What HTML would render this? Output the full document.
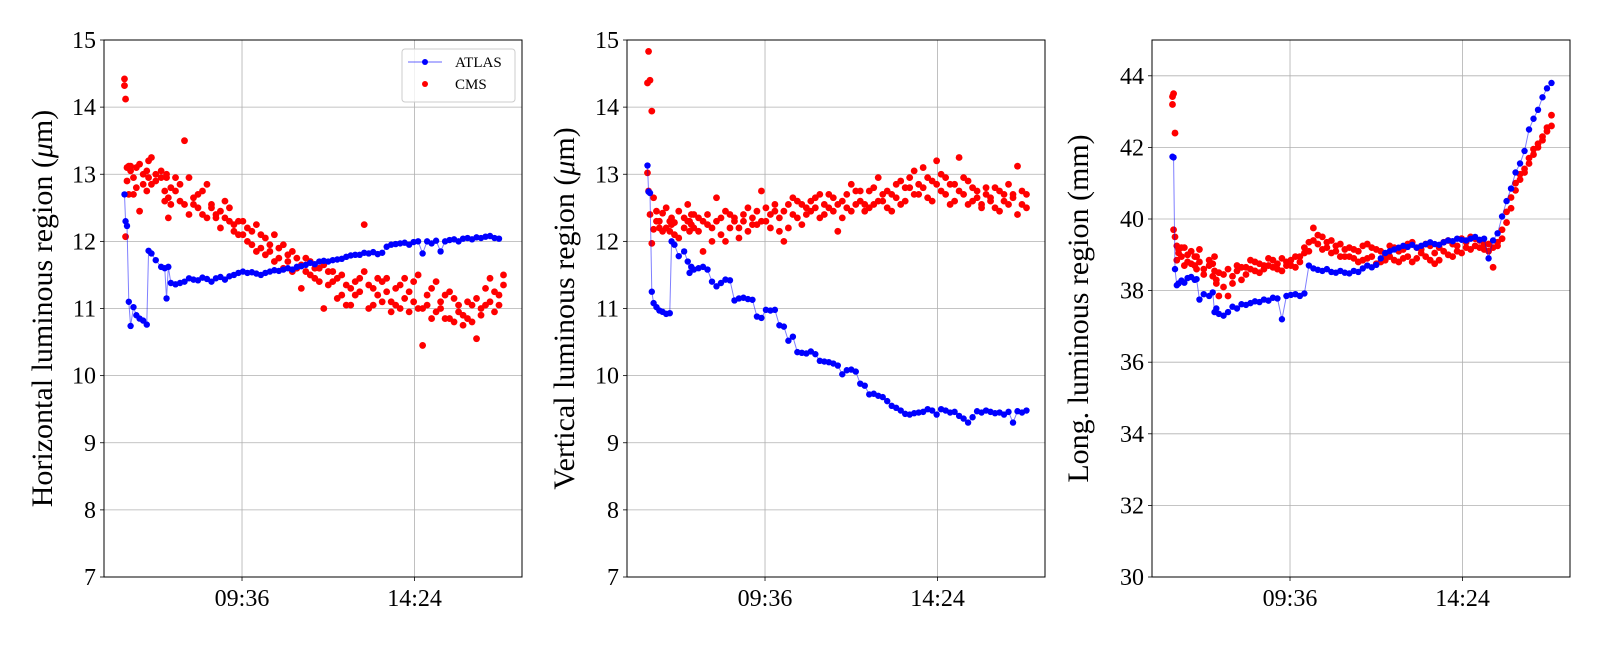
<!DOCTYPE html>
<html><head><meta charset="utf-8"><style>
html,body{margin:0;padding:0;background:#fff;}
svg text{font-family:"Liberation Serif",serif;fill:#000;}
</style></head><body>
<svg id="chart" width="1600" height="640" viewBox="0 0 1600 640" xmlns="http://www.w3.org/2000/svg"></svg>
<script>
const times=[6.33,6.36,6.40,6.45,6.50,6.58,6.66,6.75,6.85,6.95,7.00,7.08,7.20,7.35,7.45,7.50,7.55,7.62,
7.75,7.875,8.0,8.125,8.25,8.375,8.5,8.625,8.75,8.875,9.0,9.125,9.25,9.375,9.5,
9.625,9.75,9.875,10.0,10.125,10.25,10.375,10.5,10.625,10.75,10.875,11.0,11.125,
11.25,11.375,11.5,11.625,11.75,11.875,12.0,12.125,
12.25,12.375,12.5,12.625,12.75,12.875,13.0,13.125,13.25,13.375,13.5,
13.625,13.75,
13.875,14.0,14.125,14.25,14.375,14.5,14.625,14.75,14.875,15.0,15.125,15.25,15.375,15.5,15.625,15.75,15.875,16.0,16.125,16.25,16.375,16.5,16.625,16.75,16.875];
const xTickHours=[9.6,14.4];
const xTickLabels=["09:36","14:24"];

const atlasH=[12.70,12.30,12.23,11.10,10.74,11.02,10.90,10.85,10.82,10.76,11.86,11.82,11.72,11.62,11.60,11.15,11.62,11.38,
11.36,11.38,11.40,11.45,11.43,11.42,11.46,11.44,11.40,11.45,11.47,11.43,11.48,11.50,11.53,
11.55,11.53,11.54,11.52,11.50,11.53,11.55,11.57,11.56,11.58,11.60,11.58,11.62,
11.63,11.65,11.68,11.66,11.70,11.71,11.70,11.72,
11.73,11.74,11.77,11.79,11.80,11.80,11.83,11.82,11.84,11.81,11.83,
11.92,11.95,
11.96,11.97,11.98,11.95,11.99,12.00,11.82,12.00,11.97,12.01,11.85,12.00,12.02,12.03,12.00,12.04,12.05,12.03,12.06,12.05,12.07,12.08,12.05,12.04];
const cmsH1=[14.42,14.12,13.10,13.12,13.05,12.70,13.10,13.15,12.85,13.05,12.95,13.25,12.90,13.05,12.75,12.95,12.35,12.80,
12.75,12.60,13.50,12.95,12.55,12.70,12.40,12.85,12.50,12.35,12.45,12.60,12.30,12.25,12.10,
12.30,12.00,12.15,12.25,11.90,12.05,11.85,12.10,11.75,11.95,11.70,11.85,11.60,
11.65,11.55,11.70,11.45,11.60,11.00,11.55,11.40,
11.45,11.20,11.35,11.05,11.40,11.25,11.55,11.00,11.30,11.45,11.10,
11.25,10.95,
11.05,11.35,11.15,10.95,11.40,11.00,10.45,11.20,11.30,10.95,11.10,10.85,11.25,10.80,10.95,10.75,10.85,11.05,10.55,11.00,11.30,11.10,10.95,11.20,11.35];
const cmsH2=[14.32,12.07,12.90,12.70,13.12,12.95,12.80,12.45,13.00,12.75,13.20,12.85,13.00,12.95,12.60,13.00,12.65,12.55,
12.95,12.85,12.55,12.40,12.65,12.50,12.75,12.35,12.55,12.40,12.20,12.35,12.50,12.15,12.30,
12.10,12.20,11.95,11.85,12.10,11.80,11.95,11.70,11.90,11.60,11.80,11.55,11.75,
11.30,11.75,11.50,11.60,11.40,11.65,11.35,11.55,
11.15,11.50,11.05,11.30,11.20,11.45,12.25,11.35,11.05,11.20,11.40,
11.45,11.10,
11.30,11.00,11.45,11.25,11.10,11.50,11.00,11.05,10.85,11.40,11.00,11.20,10.85,11.15,11.05,10.90,11.10,10.80,11.15,10.90,11.05,11.45,11.25,11.05,11.50];

const atlasV=[13.13,12.74,12.72,11.25,11.08,11.02,10.97,10.95,10.92,10.93,12.00,11.95,11.78,11.85,11.70,11.53,11.62,11.58,
11.60,11.62,11.58,11.40,11.33,11.38,11.43,11.42,11.12,11.15,11.16,11.14,11.13,10.88,10.86,
10.98,10.97,10.98,10.75,10.73,10.52,10.58,10.35,10.34,10.33,10.36,10.32,10.22,
10.21,10.20,10.18,10.15,10.02,10.08,10.09,10.06,
9.88,9.85,9.72,9.73,9.70,9.68,9.62,9.55,9.52,9.48,9.43,
9.42,9.44,
9.45,9.46,9.50,9.48,9.42,9.50,9.48,9.45,9.46,9.40,9.36,9.30,9.38,9.47,9.45,9.48,9.46,9.44,9.45,9.42,9.46,9.30,9.47,9.45,9.48];
const cmsV1=[13.02,14.83,14.40,13.94,12.65,12.45,12.30,12.15,12.50,12.30,12.25,12.10,12.45,12.20,12.55,12.30,12.25,12.40,
12.35,11.85,12.25,12.00,12.30,12.10,12.45,12.20,12.35,12.05,12.30,12.50,12.25,12.45,12.30,
12.50,12.20,12.45,12.35,12.00,12.55,12.40,12.60,12.25,12.50,12.45,12.65,12.35,
12.55,12.70,12.45,12.15,12.60,12.50,12.85,12.55,
12.60,12.45,12.75,12.55,12.95,12.60,12.50,12.70,12.85,12.55,12.80,
12.95,12.70,
12.85,13.10,12.65,12.90,13.20,12.75,12.95,12.55,12.85,13.25,12.70,12.90,12.60,12.75,12.55,12.80,12.65,12.50,12.75,12.60,12.85,12.70,13.12,12.55,12.70];
const cmsV2=[14.36,12.75,12.40,11.97,12.18,12.30,12.20,12.42,12.20,12.15,12.35,12.28,12.05,12.35,12.30,12.15,12.40,12.20,
12.15,12.30,12.40,12.20,12.65,12.35,12.00,12.40,12.30,12.20,12.40,12.15,12.35,12.25,12.75,
12.30,12.40,12.55,12.15,12.45,12.20,12.65,12.35,12.55,12.40,12.60,12.50,12.70,
12.40,12.50,12.65,12.55,12.35,12.70,12.45,12.75,
12.75,12.55,12.50,12.80,12.60,12.70,12.75,12.45,12.65,12.90,12.60,
12.80,13.05,
12.70,12.80,12.95,12.60,12.85,13.00,12.70,12.85,12.60,12.75,12.95,12.55,12.80,12.65,12.50,12.70,12.60,12.80,12.45,12.70,12.55,12.65,12.40,12.75,12.50];

const atlasL=[41.74,41.72,38.60,38.15,38.20,38.28,38.22,38.35,38.38,38.30,38.32,37.75,37.90,37.85,37.95,37.40,37.50,37.35,
37.30,37.40,37.55,37.50,37.62,37.60,37.65,37.70,37.68,37.75,37.72,37.80,37.78,37.20,37.85,
37.88,37.90,37.85,37.92,38.70,38.62,38.58,38.55,38.60,38.52,38.50,38.55,38.50,
38.48,38.55,38.52,38.62,38.70,38.65,38.72,38.90,
39.05,39.10,39.15,39.20,39.25,39.22,39.28,39.20,39.25,39.30,39.35,
39.30,39.28,
39.35,39.40,39.38,39.45,39.42,39.40,39.45,39.50,39.42,39.45,38.90,39.40,39.60,40.07,40.50,40.85,41.30,41.55,41.90,42.50,42.80,43.05,43.40,43.65,43.80];
const cmsL1=[43.42,43.50,42.40,39.25,39.15,38.95,39.20,38.80,39.10,38.70,38.95,39.15,38.60,38.85,38.40,38.95,38.20,37.85,
38.10,37.85,38.40,38.55,38.30,38.65,38.60,38.80,38.50,38.70,38.90,38.65,38.75,38.55,38.80,
38.85,38.65,38.95,39.05,39.35,39.75,39.30,39.50,39.20,39.40,39.10,39.30,38.95,
39.20,38.90,39.10,38.85,39.30,38.95,39.15,38.80,
39.00,39.25,38.85,39.10,38.90,39.30,38.80,39.20,39.05,38.95,39.25,
39.05,38.85,
39.10,39.40,38.95,39.25,39.05,39.35,39.15,39.45,39.20,39.30,39.10,38.65,39.25,39.70,40.20,40.60,41.00,41.25,41.40,41.70,41.95,42.10,42.30,42.45,42.60];
const cmsL2=[43.20,39.70,39.50,38.85,39.05,39.20,38.70,39.00,38.75,38.95,38.60,38.80,38.45,38.70,38.75,38.55,38.30,38.50,
38.45,38.60,38.20,38.70,38.65,38.45,38.85,38.55,38.75,38.60,38.70,38.85,38.60,38.90,38.70,
38.70,38.95,38.80,39.20,39.10,39.40,39.55,39.15,39.35,39.05,39.25,38.95,39.15,
38.95,39.15,38.80,39.25,38.90,39.20,38.75,39.10,
38.85,38.95,39.20,38.80,39.15,38.95,39.35,38.90,39.15,39.30,38.85,
38.75,39.20,
39.35,39.00,39.30,39.10,39.45,39.20,39.50,39.25,39.40,39.15,39.30,39.20,39.35,39.45,39.90,40.30,40.80,41.10,41.30,41.55,41.80,42.00,42.20,42.55,42.90];

const ticksHV=[7,8,9,10,11,12,13,14,15];
const ticksL=[30,32,34,36,38,40,42,44];

const NS="http://www.w3.org/2000/svg";
const svg=document.getElementById('chart');
function mk(tag,attrs,parent){const e=document.createElementNS(NS,tag);for(const k in attrs)e.setAttribute(k,attrs[k]);(parent||svg).appendChild(e);return e;}

const X0=5.76,X1=17.39,TOP=40,BOT=577,W=418;
const panels=[
 {left:104,ymin:7,ymax:15,ticks:ticksHV,atlas:atlasH,c1:cmsH1,c2:cmsH2,title:"Horizontal luminous region (",unit:"μ",tail:"m)",tx:42,key:"horizontal"},
 {left:627,ymin:7,ymax:15,ticks:ticksHV,atlas:atlasV,c1:cmsV1,c2:cmsV2,title:"Vertical luminous region (",unit:"μ",tail:"m)",tx:564,key:"vertical"},
 {left:1152,ymin:30,ymax:45,ticks:ticksL,atlas:atlasL,c1:cmsL1,c2:cmsL2,title:"Long. luminous region (mm)",unit:"",tail:"",tx:1078,key:"longitudinal"}
];

panels.forEach(p=>{
 const xs=t=>p.left+(t-X0)/(X1-X0)*W;
 const ys=v=>BOT-(v-p.ymin)/(p.ymax-p.ymin)*(BOT-TOP);
 const g=mk('g',{});
 
 
 xTickHours.forEach((h,i)=>{
  const l=mk('line',{x1:xs(h),x2:xs(h),y1:TOP,y2:BOT,stroke:'#b0b0b0','stroke-width':0.8},g);
  
  
  mk('line',{x1:xs(h),x2:xs(h),y1:BOT,y2:BOT+4,stroke:'#000','stroke-width':0.8},g);
  const t=mk('text',{x:xs(h),y:BOT+29,'font-size':24,'text-anchor':'middle'},g);
  t.textContent=xTickLabels[i];
  
  
 });
 p.ticks.forEach(v=>{
  if(v>p.ymin&&v<p.ymax){
   const l=mk('line',{x1:p.left,x2:p.left+W,y1:ys(v),y2:ys(v),stroke:'#b0b0b0','stroke-width':0.8},g);
   
   
  }
  mk('line',{x1:p.left-4,x2:p.left,y1:ys(v),y2:ys(v),stroke:'#000','stroke-width':0.8},g);
  const t=mk('text',{x:p.left-8,y:ys(v)+8,'font-size':24,'text-anchor':'end'},g);
  t.textContent=v;
  
  
 });
 [p.c1,p.c2].forEach(arr=>{
  arr.forEach((v,i)=>{
   const c=mk('circle',{cx:xs(times[i]),cy:ys(v),r:3.4,fill:'#ff0000'},g);
   
   
  });
 });
 const pl=mk('polyline',{points:p.atlas.map((v,i)=>xs(times[i])+','+ys(v)).join(' '),fill:'none',stroke:'#0000ff','stroke-opacity':0.5,'stroke-width':1},g);
 
 
 p.atlas.forEach((v,i)=>{
  const c=mk('circle',{cx:xs(times[i]),cy:ys(v),r:3.2,fill:'#0000ff'},g);
  
  
 });
 const fr=mk('rect',{x:p.left,y:TOP,width:W,height:BOT-TOP,fill:'none',stroke:'#000','stroke-width':1},g);
 
 
 const yt=mk('text',{x:0,y:0,'font-size':30,'text-anchor':'middle',transform:`translate(${p.tx+10},${(TOP+BOT)/2}) rotate(-90)`},g);
 
 
 yt.appendChild(document.createTextNode(p.title));
 if(p.unit){const ts=mk('tspan',{'font-style':'italic'},yt);ts.textContent=p.unit;yt.appendChild(document.createTextNode(p.tail));}
});

const lg=mk('g',{});


mk('rect',{x:402,y:49,width:113,height:53,rx:3,fill:'#fff','fill-opacity':0.8,stroke:'#cccccc','stroke-width':1},lg);
mk('line',{x1:408,x2:442,y1:62,y2:62,stroke:'#0000ff','stroke-opacity':0.6,'stroke-width':1},lg);
mk('circle',{cx:425,cy:62,r:3,fill:'#0000ff'},lg);
const la=mk('text',{x:455,y:67,'font-size':15},lg);la.textContent='ATLAS';


mk('circle',{cx:425,cy:84,r:3,fill:'#ff0000'},lg);
const lc=mk('text',{x:455,y:89,'font-size':15},lg);lc.textContent='CMS';


</script>
</body></html>
